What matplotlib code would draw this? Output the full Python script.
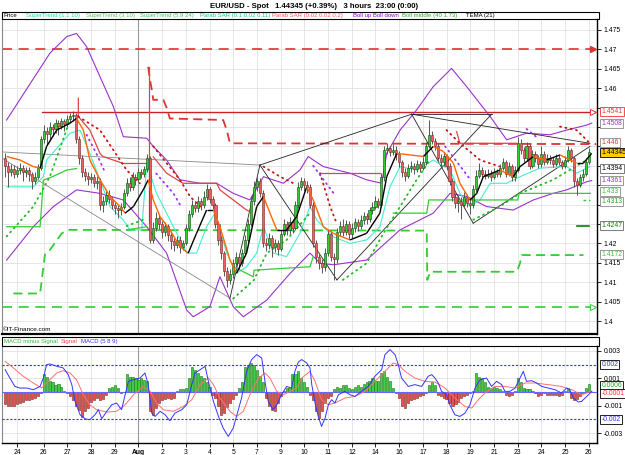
import numpy as np
import matplotlib
matplotlib.use("Agg")
import matplotlib.pyplot as plt
from matplotlib.collections import LineCollection
from matplotlib.patches import Rectangle
from matplotlib.ticker import FuncFormatter

plt.rcParams['font.family'] = ['Liberation Sans', 'DejaVu Sans']

# ---------------- data: EUR/USD 3h bars ----------------
open0 = 1.4420
close = [1.4400, 1.4385, 1.4392, 1.4380, 1.4388, 1.4395, 1.4383, 1.4390, 1.4378, 1.4360,
         1.4372, 1.4395, 1.4470, 1.4490, 1.4482, 1.4500, 1.4495, 1.4510, 1.4502, 1.4515,
         1.4508, 1.4520, 1.4528, 1.4530, 1.4470, 1.4420, 1.4385, 1.4375, 1.4365, 1.4372,
         1.4355, 1.4362, 1.4300, 1.4310, 1.4325, 1.4315, 1.4300, 1.4290, 1.4285, 1.4295,
         1.4330, 1.4355, 1.4345, 1.4372, 1.4365, 1.4385, 1.4378, 1.4392, 1.4420, 1.4210,
         1.4240, 1.4265, 1.4250, 1.4230, 1.4245, 1.4222, 1.4205, 1.4195, 1.4210, 1.4190,
         1.4200, 1.4240, 1.4275, 1.4300, 1.4290, 1.4310, 1.4298, 1.4320, 1.4340, 1.4315,
         1.4300, 1.4250, 1.4210, 1.4175, 1.4130, 1.4105, 1.4120, 1.4150, 1.4165, 1.4150,
         1.4175, 1.4210, 1.4250, 1.4310, 1.4345, 1.4360, 1.4330, 1.4200, 1.4195, 1.4215,
         1.4190, 1.4200, 1.4185, 1.4225, 1.4250, 1.4235, 1.4255, 1.4240, 1.4300, 1.4345,
         1.4360, 1.4350, 1.4345, 1.4300, 1.4200, 1.4165, 1.4150, 1.4140, 1.4175, 1.4225,
         1.4165, 1.4160, 1.4230, 1.4245, 1.4230, 1.4250, 1.4225, 1.4240, 1.4255, 1.4245,
         1.4260, 1.4270, 1.4262, 1.4285, 1.4295, 1.4310, 1.4300, 1.4370, 1.4440, 1.4445,
         1.4435, 1.4442, 1.4430, 1.4410, 1.4385, 1.4375, 1.4395, 1.4400, 1.4392, 1.4405,
         1.4395, 1.4410, 1.4450, 1.4480, 1.4465, 1.4450, 1.4420, 1.4410, 1.4425, 1.4400,
         1.4360, 1.4320, 1.4305, 1.4310, 1.4300, 1.4320, 1.4305, 1.4298, 1.4340, 1.4375,
         1.4390, 1.4380, 1.4375, 1.4380, 1.4372, 1.4385, 1.4378, 1.4395, 1.4410, 1.4380,
         1.4400, 1.4372, 1.4390, 1.4460, 1.4440, 1.4420, 1.4450, 1.4400, 1.4430, 1.4420,
         1.4405, 1.4430, 1.4410, 1.4420, 1.4415, 1.4405, 1.4420, 1.4410, 1.4400, 1.4415,
         1.4440, 1.4420, 1.4360, 1.4350, 1.4370, 1.4380, 1.4410, 1.44345]
high = [1.4432, 1.4410, 1.4405, 1.4402, 1.4400, 1.4408, 1.4402, 1.4398, 1.4396, 1.4385,
        1.4385, 1.4405, 1.4478, 1.4505, 1.4500, 1.4512, 1.4508, 1.4520, 1.4518, 1.4522,
        1.4520, 1.4530, 1.4535, 1.4540, 1.4535, 1.4478, 1.4428, 1.4395, 1.4385, 1.4382,
        1.4380, 1.4375, 1.4368, 1.4322, 1.4335, 1.4338, 1.4322, 1.4308, 1.4300, 1.4305,
        1.4340, 1.4368, 1.4370, 1.4385, 1.4380, 1.4395, 1.4392, 1.4400, 1.4430, 1.4425,
        1.4255, 1.4280, 1.4272, 1.4258, 1.4255, 1.4250, 1.4230, 1.4215, 1.4220, 1.4218,
        1.4210, 1.4250, 1.4285, 1.4312, 1.4310, 1.4322, 1.4318, 1.4335, 1.4352, 1.4345,
        1.4322, 1.4305, 1.4258, 1.4218, 1.4180, 1.4138, 1.4135, 1.4160, 1.4178, 1.4172,
        1.4185, 1.4222, 1.4262, 1.4322, 1.4360, 1.4372, 1.4368, 1.4338, 1.4215, 1.4228,
        1.4222, 1.4212, 1.4208, 1.4235, 1.4262, 1.4258, 1.4268, 1.4262, 1.4310, 1.4358,
        1.4372, 1.4368, 1.4360, 1.4352, 1.4308, 1.4210, 1.4172, 1.4160, 1.4188, 1.4235,
        1.4232, 1.4175, 1.4240, 1.4258, 1.4262, 1.4260, 1.4258, 1.4252, 1.4265, 1.4262,
        1.4272, 1.4282, 1.4278, 1.4295, 1.4308, 1.4322, 1.4318, 1.4382, 1.4452, 1.4458,
        1.4452, 1.4455, 1.4450, 1.4438, 1.4415, 1.4395, 1.4405, 1.4412, 1.4408, 1.4415,
        1.4412, 1.4422, 1.4462, 1.4518, 1.4490, 1.4472, 1.4458, 1.4430, 1.4435, 1.4430,
        1.4408, 1.4368, 1.4330, 1.4325, 1.4320, 1.4332, 1.4328, 1.4315, 1.4350, 1.4388,
        1.4408, 1.4398, 1.4390, 1.4392, 1.4388, 1.4395, 1.4392, 1.4405, 1.4420, 1.4415,
        1.4410, 1.4405, 1.4400, 1.4474, 1.4468, 1.4448, 1.4462, 1.4455, 1.4440, 1.4438,
        1.4428, 1.4452, 1.4438, 1.4430, 1.4428, 1.4422, 1.4430, 1.4428, 1.4415, 1.4425,
        1.4452, 1.4445, 1.4425, 1.4368, 1.4380, 1.4392, 1.4420, 1.4445]
low = [1.4372, 1.4345, 1.4375, 1.4368, 1.4372, 1.4380, 1.4360, 1.4370, 1.4362, 1.4340,
       1.4352, 1.4365, 1.4390, 1.4460, 1.4455, 1.4470, 1.4478, 1.4485, 1.4480, 1.4495,
       1.4490, 1.4500, 1.4510, 1.4515, 1.4460, 1.4405, 1.4370, 1.4360, 1.4350, 1.4355,
       1.4345, 1.4340, 1.4285, 1.4280, 1.4300, 1.4305, 1.4288, 1.4275, 1.4265, 1.4272,
       1.4288, 1.4322, 1.4335, 1.4338, 1.4350, 1.4358, 1.4368, 1.4370, 1.4385, 1.4200,
       1.4200, 1.4232, 1.4238, 1.4215, 1.4220, 1.4205, 1.4185, 1.4180, 1.4188, 1.4175,
       1.4182, 1.4195, 1.4232, 1.4268, 1.4280, 1.4282, 1.4285, 1.4290, 1.4312, 1.4305,
       1.4288, 1.4240, 1.4195, 1.4160, 1.4115, 1.4088, 1.4095, 1.4110, 1.4140, 1.4135,
       1.4142, 1.4168, 1.4202, 1.4245, 1.4300, 1.4335, 1.4320, 1.4190, 1.4180, 1.4185,
       1.4165, 1.4178, 1.4170, 1.4180, 1.4218, 1.4222, 1.4225, 1.4228, 1.4235, 1.4292,
       1.4338, 1.4335, 1.4330, 1.4290, 1.4190, 1.4150, 1.4135, 1.4125, 1.4130, 1.4168,
       1.4155, 1.4106, 1.4150, 1.4220, 1.4218, 1.4222, 1.4212, 1.4215, 1.4230, 1.4232,
       1.4238, 1.4250, 1.4250, 1.4255, 1.4275, 1.4288, 1.4290, 1.4295, 1.4362, 1.4430,
       1.4425, 1.4428, 1.4415, 1.4398, 1.4372, 1.4362, 1.4368, 1.4385, 1.4380, 1.4385,
       1.4385, 1.4388, 1.4402, 1.4445, 1.4455, 1.4440, 1.4410, 1.4398, 1.4400, 1.4390,
       1.4350, 1.4310, 1.4290, 1.4280, 1.4262, 1.4292, 1.4295, 1.4275, 1.4290, 1.4332,
       1.4368, 1.4370, 1.4365, 1.4368, 1.4362, 1.4365, 1.4370, 1.4372, 1.4388, 1.4372,
       1.4375, 1.4362, 1.4362, 1.4385, 1.4430, 1.4410, 1.4412, 1.4392, 1.4395, 1.4410,
       1.4395, 1.4398, 1.4402, 1.4405, 1.4405, 1.4398, 1.4400, 1.4402, 1.4392, 1.4395,
       1.4410, 1.4410, 1.4345, 1.4325, 1.4345, 1.4362, 1.4375, 1.4405]

day_ticks = [4, 13, 21, 29, 37, 45, 53, 61, 69, 77, 85, 93, 101, 109, 117, 125, 133, 141,
             149, 157, 165, 173, 181, 189, 197]
day_labels = ['24', '26', '27', '28', '29', 'Aug', '2', '3', '4', '5', '7', '9', '10', '11',
              '12', '14', '16', '17', '18', '19', '21', '23', '24', '25', '26']

# indicator lines, (bar, price) vertices
boll_up = [(0.5, 1.4518), (7.8, 1.4604), (15.1, 1.4690), (20.8, 1.4733), (24.1, 1.4741),
           (27.5, 1.4707), (32.0, 1.4630), (36.5, 1.4553), (39.9, 1.4475), (47.8, 1.4471),
           (50.0, 1.4450), (54.5, 1.4415), (59.0, 1.4364), (65.8, 1.4355), (71.4, 1.4355),
           (77.0, 1.4329), (82.6, 1.4312), (87.2, 1.4372), (93.9, 1.4355), (99.5, 1.4389),
           (102.3, 1.4424), (104.0, 1.4415), (107.4, 1.4398), (116.4, 1.4381), (122.0, 1.4364),
           (127.1, 1.4355), (128.8, 1.4432), (133.3, 1.4492), (138.9, 1.4544), (144.5, 1.4604),
           (150.7, 1.4651), (155.8, 1.4604), (163.7, 1.4527), (169.3, 1.4467), (176.0, 1.4484),
           (183.9, 1.4480), (189.5, 1.4492), (196.3, 1.4505), (198.0, 1.4510)]
boll_dn = [(0.5, 1.4157), (9.5, 1.4243), (16.3, 1.4295), (24.1, 1.4338), (32.0, 1.4329),
           (39.9, 1.4312), (47.8, 1.4243), (54.5, 1.4175), (61.3, 1.4028), (63.5, 1.4011),
           (69.1, 1.4037), (72.5, 1.4114), (77.0, 1.4037), (80.4, 1.4011), (88.3, 1.4054),
           (96.2, 1.4123), (102.9, 1.4175), (106.3, 1.4149), (110.8, 1.4145), (122.0, 1.4157),
           (133.3, 1.4235), (144.5, 1.4278), (150.2, 1.4329), (155.8, 1.4321), (162.5, 1.4295),
           (171.5, 1.4286), (178.3, 1.4312), (185.0, 1.4329), (189.5, 1.4338), (196.3, 1.4359),
           (198.0, 1.4362)]
tema = [(0.5, 1.4424), (5.0, 1.4415), (9.5, 1.4398), (11.8, 1.4394), (14.0, 1.4450),
        (17.4, 1.4492), (21.9, 1.4510), (24.1, 1.4522), (26.4, 1.4492), (28.6, 1.4415),
        (32.0, 1.4364), (35.4, 1.4321), (38.8, 1.4295), (40.5, 1.4278), (43.3, 1.4295),
        (46.6, 1.4338), (48.3, 1.4364), (50.0, 1.4312), (52.3, 1.4269), (55.6, 1.4235),
        (59.0, 1.4192), (61.8, 1.4175), (64.6, 1.4226), (68.0, 1.4286), (70.3, 1.4286),
        (72.5, 1.4243), (75.9, 1.4157), (78.1, 1.4123), (81.5, 1.4175), (84.9, 1.4295),
        (87.2, 1.4321), (89.4, 1.4278), (91.7, 1.4235), (95.0, 1.4235), (98.4, 1.4269),
        (101.8, 1.4346), (104.0, 1.4312), (107.4, 1.4243), (110.8, 1.4226), (116.4, 1.4209),
        (122.0, 1.4226), (126.5, 1.4278), (128.8, 1.4372), (132.2, 1.4432), (136.7, 1.4428),
        (141.2, 1.4424), (144.5, 1.4450), (147.9, 1.4437), (151.3, 1.4407), (153.5, 1.4355),
        (156.9, 1.4312), (159.2, 1.4329), (161.4, 1.4372), (167.0, 1.4389), (171.5, 1.4372),
        (173.8, 1.4398), (178.3, 1.4424), (182.8, 1.4415), (187.3, 1.4428), (190.7, 1.4415),
        (192.9, 1.4407), (195.2, 1.4407), (198.0, 1.4432)]
st_fast = [(0.5, 1.4346), (9.5, 1.4346), (12.9, 1.4372), (14.0, 1.4415), (21.9, 1.4484),
           (25.3, 1.4492), (28.6, 1.4432), (35.4, 1.4295), (39.9, 1.4260), (42.1, 1.4235),
           (46.1, 1.4235), (47.8, 1.4406), (51.1, 1.4329), (56.8, 1.4243), (61.3, 1.4175),
           (64.6, 1.4175), (68.0, 1.4243), (70.8, 1.4278), (74.8, 1.4175), (78.1, 1.4123),
           (81.5, 1.4140), (84.9, 1.4175), (87.2, 1.4243), (90.5, 1.4175), (95.0, 1.4166),
           (99.5, 1.4226), (102.9, 1.4295), (105.2, 1.4260), (110.8, 1.4217), (116.4, 1.4200),
           (122.0, 1.4209), (126.5, 1.4243), (129.9, 1.4346), (133.3, 1.4398), (138.9, 1.4389),
           (144.5, 1.4415), (150.2, 1.4389), (153.5, 1.4329), (156.9, 1.4295), (160.3, 1.4312),
           (163.7, 1.4355), (169.3, 1.4355), (173.8, 1.4372), (180.5, 1.4394), (189.5, 1.4398),
           (192.9, 1.4381), (197.4, 1.4398)]
st_green = [[(0.5, 1.4243), (11.8, 1.4243), (12.9, 1.4363), (16.0, 1.4372), (20.8, 1.4389), (24.1, 1.4393)],
            [(41.0, 1.4235), (47.8, 1.4243)],
            [(77.0, 1.4140), (83.8, 1.4114), (84.0, 1.4131), (102.9, 1.4140), (104.0, 1.4166)],
            [(131.0, 1.4278), (142.3, 1.4278), (143.0, 1.4312), (173.0, 1.4312), (173.5, 1.4329), (197.5, 1.4329)]]
st_red = [[(24.7, 1.4574), (24.7, 1.4527), (28.6, 1.4492), (32.0, 1.4432), (33.0, 1.4424),
           (39.9, 1.4406), (47.8, 1.4406)],
          [(48.6, 1.4655), (48.6, 1.4252)],
          [(50.0, 1.4423), (54.5, 1.4381), (60.0, 1.4355), (71.4, 1.4355), (72.5, 1.4338),
           (81.5, 1.4286), (82.6, 1.4282)],
          [(106.3, 1.4381), (126.5, 1.4381)],
          [(152.4, 1.4488), (153.5, 1.4458), (172.7, 1.4458)]]
resist = [(48.3, 1.4655), (48.9, 1.4621), (49.5, 1.4596), (50.0, 1.4570), (53.4, 1.4570),
          (54.5, 1.4550), (55.6, 1.4522), (73.6, 1.4518), (74.8, 1.4492), (75.9, 1.4458),
          (199.5, 1.4456)]
support = [(2.8, 1.4071), (11.8, 1.4071), (13.5, 1.4175), (15.1, 1.4183), (19.1, 1.4226),
           (21.3, 1.4235), (142.3, 1.4233), (142.5, 1.4106), (143.5, 1.4127), (172.7, 1.4127),
           (173.8, 1.4149), (174.4, 1.4170), (195.2, 1.4170)]
sar_red = [[(24.7, 1.4527), (32.0, 1.4492), (36.5, 1.4441), (41.0, 1.4389), (45.5, 1.4355)],
           [(50.0, 1.4450), (54.5, 1.4407), (59.0, 1.4364), (62.4, 1.4321), (65.8, 1.4295)],
           [(87.2, 1.4398), (92.8, 1.4372), (97.3, 1.4355)],
           [(106.3, 1.4381), (109.7, 1.4295), (111.9, 1.4252)],
           [(149.0, 1.4492), (153.5, 1.4458), (160.3, 1.4415), (167.0, 1.4398)],
           [(187.3, 1.4501), (192.9, 1.4492), (197.4, 1.4458)]]
sar_green = [[(0.5, 1.4218), (9.5, 1.4295), (15.1, 1.4372), (21.9, 1.4518)],
             [(41.0, 1.4245), (47.0, 1.4262)],
             [(77.0, 1.4058), (84.0, 1.4106), (88.3, 1.4175), (95.0, 1.4209), (102.9, 1.4278)],
             [(114.0, 1.4106), (122.0, 1.4149), (127.7, 1.4226), (133.3, 1.4295), (138.9, 1.4364), (143.4, 1.4415)],
             [(158.0, 1.4261), (167.0, 1.4295), (173.8, 1.4329), (185.0, 1.4364), (196.3, 1.4415)]]
sar_purple = [[(27.5, 1.4480), (30.9, 1.4430), (33.3, 1.4390)],
              [(51.0, 1.4380), (56.8, 1.4329), (59.0, 1.4300)],
              [(104.0, 1.4400), (110.8, 1.4330)],
              [(148.5, 1.4450), (153.5, 1.4400), (156.5, 1.4370)],
              [(176.0, 1.4495), (180.0, 1.4470)]]
trend_gray = [[(-1.74, 1.4436), (86.0, 1.4402)], [(-1.74, 1.4423), (75.9, 1.4059)]]
trend_black = [[(75.9, 1.4059), (86.0, 1.4402)], [(86.0, 1.4402), (137.2, 1.4533)],
               [(137.2, 1.4533), (164.2, 1.4533)], [(137.2, 1.4533), (197.4, 1.4458)],
               [(86.0, 1.4402), (112.0, 1.4106)], [(112.0, 1.4106), (164.2, 1.4533)],
               [(137.2, 1.4533), (158.0, 1.4252)], [(158.0, 1.4252), (197.4, 1.4450)]]

# MACD panel (values in 1e-4)
hist = [-9, -10, -10, -10, -9, -8, -7, -6, -6, -5, -4, -3, -1,
        13, 11, 8, 7, 5, 6, 4, 1,
        -1, -3, -6, -10, -13, -18, -14, -12, -7, -6, -4, -6, -5, -2,
        3, 4, 5, 3, -1, 0,
        13, 11, 11, 10, 9, 10, 9, 8,
        -14, -17, -12, -8, -6, -5, -4, -5, -4,
        1, 2, 2, 3, 10, 18, 16, 14, 12, 10, 7, 4,
        -2, -4, -10, -17, -15, -11, -8, -5, -2,
        3, 7, 18, 20, 21, 20, 16, 12, 7,
        -4, -10, -13, -14, -8, -3,
        1, 3, 3, 13, 13, 15, 10, 7, 4,
        -2, -6, -14, -19, -14, -8, -4, -3,
        2, 4, 3, 5, 5, 3, 2, 4, 5, 4, 6, 7, 8, 10, 8, 8, 14, 15, 11, 8,
        3, -1, -4, -10, -12, -8, -6, -5, -4, -3, -2, -1,
        5, 7, 5,
        -2, -3, -4, -5, -8, -10, -9, -7, -4, -3, -2, -1,
        1, 14, 11, 10, 7, 4, 3, 4, 3, 2, 1,
        -2, -3, -2,
        1, 10, 7, 3, 2, 2, 1,
        -1, -3, -2, -1, -2, -2, -2, -2, -3, -2,
        1, 3,
        -4, -6, -5, -3, -1,
        3, 6]
macd_line = [(0, 16.3), (1.6, 10.2), (3.3, 4.1), (5, 2.9), (7.3, 2.9), (9.5, 1.7), (11.8, 4.1),
             (12.9, 10.2), (14, 20), (15.1, 20.5), (17.4, 18.8), (19.6, 17.6), (21.3, 12.7),
             (22.5, 5.4), (23.6, -6.8), (25.3, -16.6), (27, -19.5), (28.6, -20.2), (30.3, -16.6),
             (31.5, -12.9), (32.6, -19.5), (34.3, -14.1), (36, -9.3), (37.6, -8.0), (39.3, -12.9),
             (40.5, -2.0), (41.6, 7.8), (43.3, 9.0), (45.5, 10.2), (47.2, 13.9), (48.3, 5.4),
             (49.5, -15.4), (50.6, -17.8), (52.3, -14.1), (54, -16.6), (55.6, -21), (57.3, -15.4),
             (59.6, -12.9), (61.3, -9.3), (63, 5.4), (64.1, 13.9), (65.8, 16.3), (67.5, 18.8),
             (68.6, 7.8), (70.3, -6.8), (72, -17.8), (73.6, -26.3), (75.3, -32.4), (77, -26.3),
             (78.1, -17.8), (79.8, -4.4), (81.5, 15.1), (83.2, 23.7), (84.9, 27.3), (86.6, 24.9),
             (87.7, 7.8), (88.8, -6.8), (90.5, -12.9), (91.7, -9.3), (93.3, -2.0), (95, 4.1),
             (96.7, 2.9), (97.8, 15.1), (99, 22.0), (100.1, 23.7), (101.8, 21.2), (102.9, 17.6),
             (103.5, 5.4), (104.6, -8.0), (105.7, -17.8), (106.8, -25.1), (108, -19), (109.1, -9.3),
             (110.2, -5.6), (111.3, -8.0), (112.5, -2.0), (114.7, 0.5), (116.4, -2.0), (118.1, -3.2),
             (120.3, 0.5), (122.6, 4.1), (124.8, 11.5), (127.1, 16.3), (128.2, 27.3), (129.9, 31),
             (131.6, 27.3), (132.7, 20), (133.8, 10.2), (136.1, 4.1), (138.3, 5.4), (140.6, 4.1),
             (142.8, 11.5), (144, 12.7), (145.1, 10.2), (146.2, 6.6), (147.3, 0.5), (149, -2.0),
             (150.1, -9.3), (151.8, -16.6), (153.5, -17.8), (155.2, -15.4), (156.9, -9.3),
             (158.6, 2.9), (160.3, 9.0), (162.5, 10.2), (164.2, 4.1), (165.9, 7.8), (167.6, 5.4),
             (168.7, 0.5), (170.4, 0.5), (172.1, 2.9), (173.8, 10.2), (174.9, 15.1), (176, 7.8),
             (177.7, 8.3), (179.4, 6.6), (181.1, 4.1), (183.3, 2.9), (185.6, 1.7), (187.8, -0.7),
             (189.5, 2.9), (190.6, 1.7), (191.8, -4.4), (193.5, -7.3), (194.6, -6.8), (196.3, -3.2),
             (198, 0.5)]
signal_line = [(0, 22.4), (2.8, 17.6), (6.1, 11.5), (9.5, 6.6), (12.3, 2.9), (15.1, 9.0), (17.4, 13.9),
               (19.6, 15.6), (21.9, 13.9), (24.1, 9.0), (26.4, -2.0), (28.6, -9.3), (30.9, -12.9),
               (34.3, -14.6), (37.6, -14.1), (40.5, -9.3), (43.3, -2.0), (46.6, 4.1), (48.9, 0.5),
               (51.1, -8.0), (53.4, -12.9), (56.8, -14.1), (60.1, -10.5), (63, -5.6), (65.8, 5.4),
               (68.6, 10.2), (70.3, 5.4), (72.5, -4.4), (75.9, -14.1), (78.1, -17.8), (80.4, -14.1),
               (82.6, -2.0), (85.5, 10.2), (87.7, 13.9), (89.4, 10.2), (91.7, 0.5), (93.9, -2.0),
               (96.2, 0.5), (98.4, 2.9), (100.1, 10.2), (102.9, 15.1), (104.6, 7.8), (106.8, -5.6),
               (109.1, -9.3), (111.3, -8.0), (114.7, -4.4), (118.1, -3.2), (121.5, 0.5), (124.8, 7.8),
               (128.2, 15.1), (131, 21.2), (132.7, 20), (135, 15.1), (138.3, 10.2), (141.7, 7.8),
               (145.1, 7.3), (148.5, 2.9), (151.8, -4.4), (155.2, -10.5), (157.5, -11.7), (159.7, -5.6),
               (162, -0.7), (165.3, 4.1), (168.7, 4.1), (172.1, 2.9), (175.5, 6.6), (178.8, 6.6),
               (183.3, 5.4), (187.8, 4.1), (191.2, 1.7), (194.6, -2.0), (198, 0.5)]

# ---------------- figure ----------------
W, H = 625.0, 455.0
fig = plt.figure(figsize=(6.25, 4.55), dpi=100)
ax = fig.add_axes([2 / W, 1 - 334 / H, 595 / W, 315 / H])
ax2 = fig.add_axes([2 / W, 1 - 443 / H, 595 / W, 97 / H])
XL = (-1.06, 199.78)
grid_c = '#e2e2e2'

opens = np.array([open0] + close[:-1])
closes = np.array(close)
highs = np.array(high)
lows = np.array(low)
bars = np.arange(len(closes))


def pts(p):
    a = np.array(p)
    return a[:, 0], a[:, 1]


# main panel
ax.set_xlim(*XL)
ax.set_ylim(1.39666, 1.47783)
for v in np.arange(1.400, 1.4751, 0.005):
    ax.axhline(v, color=grid_c, lw=0.6, zorder=0)
for t in day_ticks:
    ax.axvline(t, color='#999999' if t == 45 else grid_c, lw=0.8 if t == 45 else 0.6, zorder=0)

ax.axhline(1.47, color='#dd3333', lw=1.2, dashes=(6, 4), zorder=2)
ax.axhline(1.4036, color='#33cc33', lw=1.2, dashes=(6, 4), zorder=2)
ax.plot([12.3, 199.0], [1.4538, 1.4538], color='#cc2222', lw=1.0, zorder=2)

x, y = pts(resist)
ax.plot(x, y, color='#dd3333', lw=1.3, dashes=(5, 3), zorder=2)
x, y = pts(support)
ax.plot(x, y, color='#33cc33', lw=1.3, dashes=(5, 3), zorder=2)
ax.plot([193, 197], [1.4246, 1.4246], color='#008800', lw=1.2, zorder=2)
ax.plot([195, 197.5], [1.4312, 1.4312], color='#33cc33', lw=1.0, dashes=(2, 2), zorder=2)

x, y = pts(boll_up)
ax.plot(x, y, color='#9933cc', lw=0.8, zorder=3)
x, y = pts(boll_dn)
ax.plot(x, y, color='#9933cc', lw=0.8, zorder=3)

for seg in trend_gray:
    x, y = pts(seg)
    ax.plot(x, y, color='#888888', lw=0.6, zorder=3)
for seg in trend_black:
    x, y = pts(seg)
    ax.plot(x, y, color='#222222', lw=0.6, zorder=3)

x, y = pts(st_fast)
ax.plot(x, y, color='#44eecc', lw=0.8, zorder=3)
for seg in st_green:
    x, y = pts(seg)
    ax.plot(x, y, color='#33cc33', lw=0.9, zorder=3)
for seg in st_red:
    x, y = pts(seg)
    ax.plot(x, y, color='#dd4444', lw=0.9, zorder=3)

for group, col in ((sar_red, '#cc1111'), (sar_green, '#22bb22'), (sar_purple, '#9933ff')):
    for seg in group:
        x, y = pts(seg)
        ax.plot(x, y, color=col, lw=1.3, linestyle=(0, (0.6, 2.4)),
                dash_capstyle='round', zorder=4)

# candles
up = closes >= opens
body_lo = np.minimum(opens, closes)
body_h = np.maximum(np.abs(closes - opens), 0.00008)
ax.vlines(bars, lows, highs, color='#555555', lw=0.7, zorder=5)
ax.bar(bars[up], body_h[up], bottom=body_lo[up], width=0.72, color='#33cc33',
       edgecolor='#114411', lw=0.4, zorder=6)
ax.bar(bars[~up], body_h[~up], bottom=body_lo[~up], width=0.72, color='#ee6060',
       edgecolor='#772222', lw=0.4, zorder=6)

# TEMA coloured by direction
tb, tv = pts(tema)
segs = [[(tb[i], tv[i]), (tb[i + 1], tv[i + 1])] for i in range(len(tb) - 1)]
cols = ['black' if tv[i + 1] >= tv[i] else '#ff6600' for i in range(len(tb) - 1)]
ax.add_collection(LineCollection(segs, colors=cols, linewidths=1.0, zorder=7))

# right end arrows
ax.plot([198.3], [1.47], marker='>', ms=4, color='#dd3333', clip_on=False, zorder=8)
ax.plot([198.3], [1.4538], marker='>', ms=4.5, mfc='white', mec='#dd3333', mew=0.7,
        clip_on=False, zorder=8)
ax.plot([198.3], [1.4036], marker='>', ms=4.5, mfc='white', mec='#33cc33', mew=0.7,
        clip_on=False, zorder=8)

# price scale: labels between 1.425 and 1.455 sit under the value boxes
hidden = (1.425, 1.43, 1.435, 1.44, 1.445, 1.45, 1.455)
ax.set_xticks([])
ax.yaxis.tick_right()
ax.set_yticks(np.arange(1.400, 1.4751, 0.005))
ax.yaxis.set_major_formatter(FuncFormatter(
    lambda v, p: '' if round(v, 3) in hidden else '%g' % round(v, 3)))
ax.tick_params(axis='y', length=3, width=0.6, pad=1.5, labelsize=4.9)
ax.spines['top'].set_visible(False)
ax.spines['left'].set_color('#888888')
ax.spines['right'].set_linewidth(1.0)
ax.spines['bottom'].set_linewidth(1.6)


def tag(a, yv, txt, tc, ec='black', fc='white'):
    a.annotate(txt, xy=(1, yv), xycoords=('axes fraction', 'data'), xytext=(3.2, 0),
               textcoords='offset points', ha='left', va='center', fontsize=4.9, color=tc,
               bbox=dict(boxstyle='square,pad=0.15', fc=fc, ec=ec, lw=0.6),
               annotation_clip=False, zorder=10)


tag(ax, 1.4541, '1.4541', '#ee3333', '#ee3333')
tag(ax, 1.4508, '1.4508', '#9933cc', '#888888')
tag(ax, 1.446, '1.446', '#ee3333', '#888888')
tag(ax, 1.44345, '1.44345', 'black', 'black', '#ffcc00')
tag(ax, 1.4394, '1.4394', 'black', '#666666')
tag(ax, 1.4361, '1.4361', '#9933cc', '#888888')
tag(ax, 1.4334, '1.433', '#33cc33', '#888888')
tag(ax, 1.4308, '1.4313', '#22aa22', '#888888')
tag(ax, 1.4247, '1.4247', '#008800', '#666666')
tag(ax, 1.4172, '1.4172', '#33cc33', '#888888')

# MACD panel
ax2.set_xlim(*XL)
ax2.set_ylim(-0.00372, 0.00336)
for v in (-0.003, -0.001, 0.001, 0.003):
    ax2.axhline(v, color=grid_c, lw=0.6, zorder=0)
for t in day_ticks:
    ax2.axvline(t, color='#999999' if t == 45 else grid_c, lw=0.8 if t == 45 else 0.6, zorder=0)
hv = np.array(hist) * 1e-4
hb = np.arange(len(hv))
pos = hv >= 0
ax2.bar(hb[pos], hv[pos], width=0.72, color='#44cc44', edgecolor='#117711', lw=0.4, zorder=2)
ax2.bar(hb[~pos], hv[~pos], width=0.72, color='#dd5555', edgecolor='#882222', lw=0.4, zorder=2)
ax2.axhline(0, color='#6666ff', lw=0.8, zorder=3)
ax2.axhline(0.002, color='#3333ee', lw=0.8, dashes=(2, 1.5), zorder=3)
ax2.axhline(-0.002, color='#3333ee', lw=0.8, dashes=(2, 1.5), zorder=3)
x, y = pts(signal_line)
ax2.plot(x, y * 1e-4, color='#ff7070', lw=0.7, zorder=4)
x, y = pts(macd_line)
ax2.plot(x, y * 1e-4, color='#3333ff', lw=0.7, zorder=5)

ax2.yaxis.tick_right()
ax2.set_yticks([-0.003, -0.001, 0.001, 0.003])
ax2.yaxis.set_major_formatter(FuncFormatter(lambda v, p: '%g' % round(v, 4)))
ax2.tick_params(axis='y', length=3, width=0.6, pad=1.5, labelsize=4.9)
ax2.set_xticks(day_ticks)
ax2.set_xticklabels(day_labels)
ax2.tick_params(axis='x', length=3, width=0.6, pad=1.5, labelsize=4.9)
for lab in ax2.get_xticklabels():
    if lab.get_text() == 'Aug':
        lab.set_fontweight('bold')
ax2.spines['top'].set_visible(False)
ax2.spines['left'].set_color('#888888')
ax2.spines['right'].set_linewidth(1.0)
ax2.spines['bottom'].set_linewidth(1.0)

tag(ax2, 0.002, '0.002', '#3333ee')
tag(ax2, 0.0005, '0.0006', '#22aa22')
tag(ax2, -0.00012, '-0.0001', '#ee3333')
tag(ax2, -0.002, '-0.002', '#3333ee')

# header texts and legend boxes
fig.text(314 / W, 1 - 6 / H, 'EUR/USD - Spot   1.44345 (+0.39%)   3 hours  23:00 (0:00)',
         ha='center', va='center', fontsize=5.6, fontweight='bold')
fig.patches.append(Rectangle((2 / W, 1 - 19 / H), 597 / W, 7 / H, transform=fig.transFigure,
                             fill=False, ec='black', lw=0.8))
legend_items = [(4, 'Price', 'black'), (26, 'SuperTrend (1.1 10)', '#22ddaa'),
                (86, 'SuperTrend (3 10)', '#55cc55'), (140, 'SuperTrend (5.9 24)', '#33cc66'),
                (200, 'Parab SAR (0.1 0.02 0.11)', '#11cc88'),
                (272, 'Parab SAR (0.02 0.02 0.2)', '#ff5555'),
                (353, 'Boll up Boll down', '#9900cc'), (402, 'Boll middle (40 1.73)', '#33aa33'),
                (466, 'TEMA (21)', 'black')]
for px, txt, col in legend_items:
    fig.text(px / W, 1 - 15.6 / H, txt, ha='left', va='center', fontsize=4.3, color=col)

fig.text(3 / W, 1 - 329.5 / H, '\u00a9IT-Finance.com', ha='left', va='center', fontsize=4.6)
fig.patches.append(Rectangle((2 / W, 1 - 345.5 / H), 597 / W, 9 / H, transform=fig.transFigure,
                             fill=False, ec='black', lw=0.8))
# MACD legend: place the items one after another
renderer = fig.canvas.get_renderer()
px = 4.0
for txt, col in [('MACD minus Signal', '#33bb33'), ('Signal', '#ee4444'),
                 ('MACD (5 8 9)', '#3333ee')]:
    t = fig.text(px / W, 1 - 341 / H, txt, ha='left', va='center', fontsize=4.3, color=col)
    px += t.get_window_extent(renderer).width + 3

fig.savefig('out.png', dpi=100)
